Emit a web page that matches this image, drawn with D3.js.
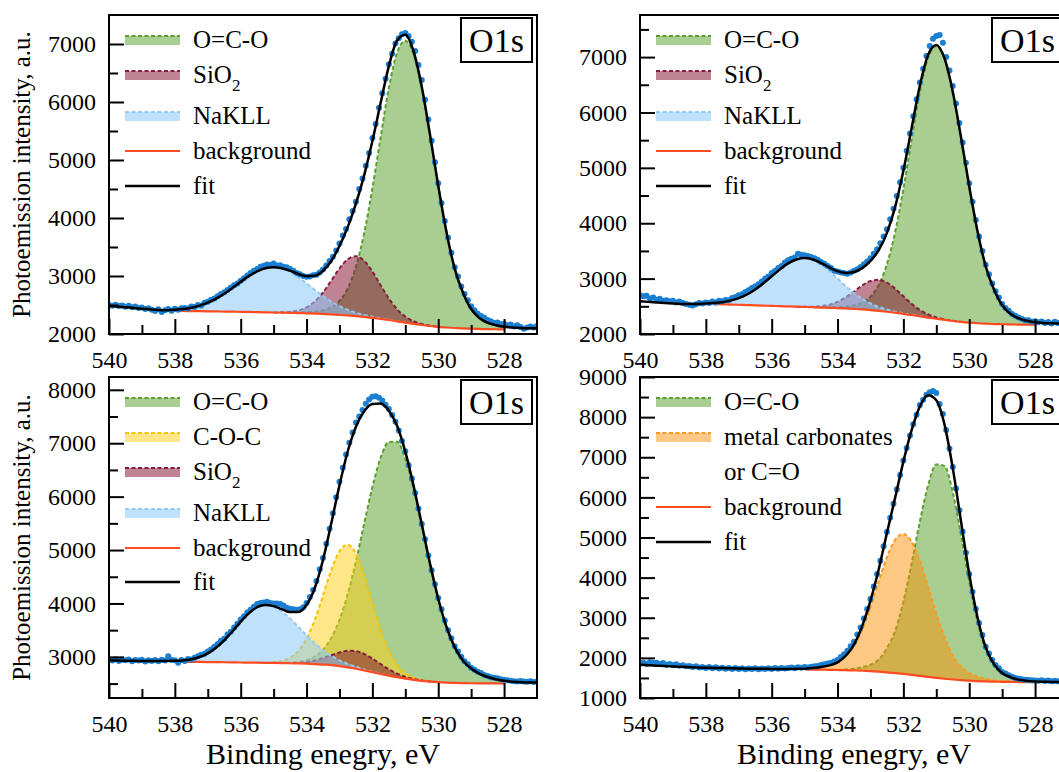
<!DOCTYPE html>
<html>
<head>
<meta charset="utf-8">
<script src="https://cdn.jsdelivr.net/npm/d3@7"></script>
<style>
  html, body { margin: 0; padding: 0; background: #fff; }
  svg { display: block; }
</style>
</head>
<body>
<svg id="chart" width="1059" height="772"></svg>
<script>
// ---------- energy sampling (eV) ----------
const gridEnergy = [540,539.75,539.5,539.25,539,538.75,538.5,538.25,538,537.75,537.5,537.25,537,536.75,536.5,536.25,536,535.75,535.5,535.25,535,534.75,534.5,534.25,534,533.75,533.5,533.25,533,532.75,532.5,532.25,532,531.75,531.5,531.25,531,530.75,530.5,530.25,530,529.75,529.5,529.25,529,528.75,528.5,528.25,528,527.75,527.5,527.25,527];

const countEnergy = [
  540,539.9,539.8,539.7,539.6,539.5,539.4,539.3,539.2,539.1,
  539,538.9,538.8,538.7,538.6,538.5,538.4,538.3,538.2,538.1,
  538,537.9,537.8,537.7,537.6,537.5,537.4,537.3,537.2,537.1,
  537,536.9,536.8,536.7,536.6,536.5,536.4,536.3,536.2,536.1,
  536,535.9,535.8,535.7,535.6,535.5,535.4,535.3,535.2,535.1,
  535,534.9,534.8,534.7,534.6,534.5,534.4,534.3,534.2,534.1,
  534,533.9,533.8,533.7,533.6,533.5,533.4,533.3,533.2,533.1,
  533,532.9,532.8,532.7,532.6,532.5,532.4,532.3,532.2,532.1,
  532,531.9,531.8,531.7,531.6,531.5,531.4,531.3,531.2,531.1,
  531,530.9,530.8,530.7,530.6,530.5,530.4,530.3,530.2,530.1,
  530,529.9,529.8,529.7,529.6,529.5,529.4,529.3,529.2,529.1,
  529,528.9,528.8,528.7,528.6,528.5,528.4,528.3,528.2,528.1,
  528,527.9,527.8,527.7,527.6,527.5,527.4,527.3,527.2,527.1,
  527];

// ---------- tick values ----------
const energyTicks = [540, 538, 536, 534, 532, 530, 528];
const energyMinorTicks = [539, 537, 535, 533, 531, 529];
const p1IntensityTicks = [2000, 3000, 4000, 5000, 6000, 7000];
const p1IntensityMinor = [2500, 3500, 4500, 5500, 6500];
const p2IntensityTicks = [2000, 3000, 4000, 5000, 6000, 7000];
const p2IntensityMinor = [2500, 3500, 4500, 5500, 6500, 7500];
const p3IntensityTicks = [3000, 4000, 5000, 6000, 7000, 8000];
const p3IntensityMinor = [2500, 3500, 4500, 5500, 6500, 7500];
const p4IntensityTicks = [1000, 2000, 3000, 4000, 5000, 6000, 7000, 8000, 9000];
const p4IntensityMinor = [1500, 2500, 3500, 4500, 5500, 6500, 7500, 8500];

// ---------- sample 1 ----------
const p1Background = [null,null,null,null,null,null,null,2400,2399,2397,2395,2393,2391,2389,2387,2385,2383,2380,2377,2374,2371,2368,2365,2361,2357,2352,2346,2339,2331,2321,2309,2295,2279,2261,2242,2218,2196,2175,2155,2138,2124,2112,2103,2096,2091,2087,2084,2082,2080,null,null,null,null];
const p1OCO = [0,0,0,0,0,0,0,0,0,0,0,0,0,0,0,0,0,0,0,0,0,0,5,10,20,35,65,120,240,460,850,1440,2230,3130,4000,4630,4860,4655,4088,3293,2432,1648,1025,620,340,190,110,70,45,0,0,0,0];
const p1SiO2 = [0,0,0,0,0,0,0,0,0,0,0,0,0,0,0,0,0,0,0,0,0,6,18,45,104,209,371,580,798,966,1030,966,798,580,371,209,104,45,18,6,0,0,0,0,0,0,0,0,0,0,0,0,0];
const p1NaKLL = [0,0,0,0,0,0,0,10,19,34,59,96,149,220,308,409,516,619,704,761,780,761,704,619,516,409,308,220,149,96,59,34,19,10,5,2,0,0,0,0,0,0,0,0,0,0,0,0,0,0,0,0,0];
const p1Fit = [2485,2475,2463,2450,2437,2425,2415,2410,2418,2431,2454,2489,2540,2609,2695,2794,2899,2999,3081,3135,3151,3135,3092,3035,2997,3005,3090,3259,3518,3843,4248,4735,5326,5981,6618,7059,7160,6875,6261,5437,4556,3760,3128,2716,2431,2277,2194,2152,2125,2112,2104,2099,2096];
const p1Counts = [
  2500,2488,2505,2482,2490,2470,2485,2460,2475,2450,
  2455,2430,2445,2420,2395,2425,2380,2410,2430,2400,
  2435,2420,2445,2450,2440,2475,2465,2500,2490,2540,
  2555,2590,2610,2650,2690,2720,2760,2800,2840,2870,
  2920,2960,3010,3050,3090,3120,3160,3175,3200,3190,
  3215,3180,3185,3160,3150,3120,3090,3050,3030,3000,
  2985,2990,3015,3020,3060,3110,3180,3260,3330,3440,
  3560,3700,3810,3980,4120,4280,4500,4680,4900,5120,
  5380,5620,5900,6150,6400,6650,6830,7010,7100,7170,
  7190,7140,7040,6880,6640,6380,6040,5700,5330,4960,
  4600,4260,3950,3660,3400,3150,2990,2820,2690,2580,
  2480,2410,2350,2310,2280,2240,2220,2190,2200,2170,
  2175,2150,2165,2130,2150,2120,2090,2110,2130,2110,
  2140];

// ---------- sample 2 ----------
const p2Background = [null,null,null,null,null,null,null,null,null,2540,2536,2532,2528,2523,2518,2513,2508,2503,2498,2493,2488,2483,2478,2473,2467,2461,2453,2444,2432,2418,2402,2384,2365,2343,2320,2297,2275,2254,2235,2219,2205,2194,2186,2180,2176,2173,2170,2168,2167,null,null,null,null];
const p2OCO = [0,0,0,0,0,0,0,0,0,0,0,0,0,0,0,0,0,0,0,0,0,0,5,10,20,35,66,121,243,466,860,1457,2257,3168,4048,4686,4920,4712,4138,3333,2461,1668,1037,627,344,192,111,71,46,0,0,0,0];
const p2SiO2 = [0,0,0,0,0,0,0,0,0,0,0,0,0,0,0,0,0,0,0,0,3,10,25,57,114,202,315,434,525,560,525,434,315,202,114,57,25,10,3,0,0,0,0,0,0,0,0,0,0,0,0,0,0];
const p2NaKLL = [0,0,0,0,0,0,0,0,0,20,39,70,119,190,286,403,534,664,776,853,880,853,776,664,534,403,286,190,119,70,39,20,10,4,2,0,0,0,0,0,0,0,0,0,0,0,0,0,0,0,0,0,0];
const p2Fit = [2592,2580,2569,2559,2550,2543,2540,2542,2549,2560,2575,2602,2647,2713,2804,2916,3042,3167,3274,3346,3371,3346,3284,3204,3135,3101,3120,3189,3319,3514,3826,4295,4947,5717,6484,7040,7220,6976,6376,5552,4666,3862,3223,2807,2520,2365,2281,2239,2213,2200,2193,2190,2188];
const p2Counts = [
  2700,2680,2690,2640,2660,2620,2635,2600,2610,2590,
  2600,2570,2585,2560,2540,2530,2515,2535,2560,2550,
  2570,2560,2585,2570,2600,2590,2615,2610,2650,2670,
  2700,2720,2760,2790,2830,2860,2900,2950,3000,3040,
  3100,3140,3190,3230,3290,3330,3360,3380,3450,3430,
  3420,3410,3390,3370,3340,3300,3270,3230,3190,3140,
  3130,3110,3100,3090,3110,3140,3170,3210,3260,3310,
  3370,3450,3530,3640,3760,3890,4070,4260,4490,4740,
  5000,5310,5620,5930,6240,6540,6790,7020,7200,7330,
  7380,7400,7260,7000,6760,6480,6160,5810,5460,5090,
  4720,4390,4060,3760,3500,3250,3080,2910,2770,2660,
  2540,2470,2420,2360,2330,2300,2270,2250,2250,2220,
  2230,2210,2225,2200,2215,2190,2220,2200,2215,2205,
  2220];

// ---------- sample 3 ----------
const p3Background = [null,null,null,null,null,null,null,null,null,2909,2907,2905,2903,2901,2899,2897,2895,2893,2891,2889,2887,2884,2881,2877,2872,2865,2856,2845,2826,2805,2778,2747,2714,2680,2648,2618,2592,2570,2552,2538,2527,2519,2513,2509,2506,2504,2503,2502,2501,null,null,null,null];
const p3OCO = [0,0,0,0,0,0,0,0,0,0,0,0,0,0,0,0,0,0,0,0,0,5,13,30,68,142,278,510,867,1372,2014,2746,3465,4048,4376,4410,4116,3582,2910,2207,1562,1045,670,425,275,182,121,80,50,0,0,0,0];
const p3COC = [0,0,0,0,0,0,0,0,0,0,0,0,0,0,0,0,0,0,0,0,13,39,101,232,466,826,1292,1779,2153,2295,2153,1779,1292,826,466,232,101,39,13,0,0,0,0,0,0,0,0,0,0,0,0,0,0];
const p3SiO2 = [0,0,0,0,0,0,0,0,0,0,0,0,0,0,0,0,0,0,0,0,0,2,6,15,33,67,119,186,256,309,330,309,256,186,119,67,33,15,6,2,0,0,0,0,0,0,0,0,0,0,0,0,0];
const p3NaKLL = [0,0,0,0,0,0,0,0,0,23,48,92,163,269,411,582,764,926,1039,1080,1050,964,837,686,531,389,269,176,109,64,35,18,9,4,0,0,0,0,0,0,0,0,0,0,0,0,0,0,0,0,0,0,0];
const p3Fit = [2935,2932,2929,2926,2924,2922,2922,2924,2928,2932,2955,2997,3066,3170,3310,3479,3659,3819,3930,3969,3950,3894,3838,3840,3970,4289,4814,5496,6211,6845,7310,7599,7736,7744,7609,7327,6842,6206,5481,4747,4089,3564,3183,2934,2781,2686,2624,2582,2551,2535,2525,2520,2518];
const p3Counts = [
  2950,2930,2955,2925,2945,2935,2950,2920,2940,2930,
  2945,2915,2935,2925,2940,2920,2945,2930,3010,2940,
  2935,2890,2940,2925,2960,2950,2985,3010,3040,3060,
  3100,3140,3190,3240,3300,3340,3420,3470,3550,3620,
  3700,3760,3830,3880,3940,3990,4010,4020,4030,4010,
  4000,4000,3990,3960,3920,3900,3890,3880,3890,3930,
  4010,4120,4250,4420,4640,4850,5120,5400,5690,5990,
  6280,6540,6790,7010,7200,7390,7500,7620,7740,7820,
  7870,7880,7850,7800,7720,7640,7530,7400,7240,7040,
  6850,6590,6340,6070,5780,5490,5200,4900,4620,4360,
  4100,3890,3680,3500,3350,3200,3100,3000,2920,2860,
  2795,2760,2720,2700,2660,2640,2620,2610,2600,2580,
  2570,2560,2555,2545,2540,2550,2540,2535,2545,2530,
  2540];

// ---------- sample 4 ----------
const p4Background = [null,null,null,null,null,null,null,null,null,null,null,null,null,null,null,null,null,null,null,null,1710,1708,1705,1702,1698,1693,1687,1679,1669,1656,1640,1621,1600,1576,1551,1526,1502,1480,1461,1445,1432,1421,1413,1407,1403,1400,1398,1397,1396,null,null,null,null];
const p4OCO = [0,0,0,0,0,0,0,0,0,0,0,0,0,0,0,0,0,0,0,0,0,0,0,0,0,20,45,90,160,300,600,1051,1800,2776,3843,4770,5320,5304,4668,3617,2469,1482,782,400,200,110,60,30,15,0,0,0,0];
const p4Carbonate = [0,0,0,0,0,0,0,0,0,0,0,0,0,0,0,0,0,0,0,0,22,38,65,110,190,340,600,1030,1598,2248,2872,3322,3490,3322,2872,2248,1598,1030,600,340,190,110,65,38,22,12,0,0,0,0,0,0,0];
const p4Fit = [1831,1818,1806,1795,1785,1776,1768,1762,1756,1750,1745,1740,1736,1732,1729,1727,1725,1724,1724,1726,1732,1746,1770,1812,1888,2053,2332,2799,3427,4204,5112,5994,6890,7674,8266,8544,8420,7814,6729,5402,4091,3013,2260,1845,1625,1522,1458,1427,1411,1405,1400,1398,1396];
const p4Counts = [
  1860,1880,1850,1890,1870,1880,1845,1870,1830,1850,
  1820,1840,1805,1815,1790,1800,1770,1790,1760,1775,
  1750,1770,1740,1765,1735,1755,1730,1750,1725,1745,
  1720,1740,1715,1735,1720,1740,1715,1735,1720,1740,
  1725,1745,1730,1750,1735,1745,1760,1740,1765,1755,
  1770,1760,1780,1790,1800,1820,1840,1860,1880,1910,
  1950,2020,2090,2180,2290,2400,2580,2760,2980,3220,
  3470,3780,4090,4420,4780,5140,5490,5840,6200,6560,
  6920,7230,7540,7820,8060,8300,8430,8560,8620,8650,
  8600,8330,8080,7680,7220,6760,6220,5680,5150,4620,
  4090,3650,3220,2870,2570,2280,2110,1950,1820,1740,
  1650,1610,1570,1530,1500,1480,1470,1455,1450,1440,
  1435,1430,1440,1425,1435,1420,1430,1415,1425,1410,
  1420];

// ---------- styles ----------
const FONT = '"Liberation Serif", "Times New Roman", Times, serif';
const componentStyle = {
  oco:   { stroke: '#5c9e2e', fill: 'rgba(112,173,71,0.6)' },
  coc:   { stroke: '#f5c400', fill: 'rgba(255,206,20,0.5)' },
  sio2:  { stroke: '#871c3d', fill: 'rgba(128,8,42,0.5)' },
  nakll: { stroke: '#93caf3', fill: 'rgba(140,200,250,0.55)' },
  mc:    { stroke: '#ff9a1f', fill: 'rgba(250,146,8,0.5)' }
};
const backgroundColor = '#ff4b1f';
const fitColor = '#000';
const dotColor = '#1a7fd2';

const PLOT_W = 428;
const panels = [
  { left: 109, top: 15, bottom: 334, yDomain: [2000, 7500],
    yTicks: p1IntensityTicks, yMinor: p1IntensityMinor,
    bg: p1Background, fit: p1Fit, counts: p1Counts,
    comps: [['oco', p1OCO], ['sio2', p1SiO2], ['nakll', p1NaKLL]],
    legend: [['oco','O=C-O',25], ['sio2','SiO2',60], ['nakll','NaKLL',101], ['bg','background',136], ['fit','fit',171]],
    yTitle: true, xTitle: false },
  { left: 640, top: 15, bottom: 334, yDomain: [2000, 7760],
    yTicks: p2IntensityTicks, yMinor: p2IntensityMinor,
    bg: p2Background, fit: p2Fit, counts: p2Counts,
    comps: [['oco', p2OCO], ['sio2', p2SiO2], ['nakll', p2NaKLL]],
    legend: [['oco','O=C-O',25], ['sio2','SiO2',60], ['nakll','NaKLL',101], ['bg','background',136], ['fit','fit',171]],
    yTitle: false, xTitle: false },
  { left: 109, top: 377, bottom: 698, yDomain: [2230, 8240],
    yTicks: p3IntensityTicks, yMinor: p3IntensityMinor,
    bg: p3Background, fit: p3Fit, counts: p3Counts,
    comps: [['oco', p3OCO], ['coc', p3COC], ['sio2', p3SiO2], ['nakll', p3NaKLL]],
    legend: [['oco','O=C-O',25], ['coc','C-O-C',60], ['sio2','SiO2',95], ['nakll','NaKLL',136], ['bg','background',171], ['fit','fit',205]],
    yTitle: true, xTitle: true },
  { left: 640, top: 377, bottom: 698, yDomain: [1000, 9000],
    yTicks: p4IntensityTicks, yMinor: p4IntensityMinor,
    bg: p4Background, fit: p4Fit, counts: p4Counts,
    comps: [['oco', p4OCO], ['mc', p4Carbonate]],
    legend: [['oco','O=C-O',25], ['mc','metal carbonates',60], ['text','or C=O',95], ['bg','background',130], ['fit','fit',165]],
    yTitle: false, xTitle: true }
];

const svg = d3.select('#chart');
svg.append('rect').attr('width', 1059).attr('height', 772).attr('fill', '#fff');
const defs = svg.append('defs');

panels.forEach((p, pi) => {
  const x = d3.scaleLinear().domain([540, 527]).range([p.left, p.left + PLOT_W]);
  const y = d3.scaleLinear().domain(p.yDomain).range([p.bottom, p.top]);
  const g = svg.append('g');

  defs.append('clipPath').attr('id', 'plot-clip-' + pi)
    .append('rect').attr('x', p.left).attr('y', p.top)
    .attr('width', PLOT_W).attr('height', p.bottom - p.top);
  const plot = g.append('g').attr('clip-path', `url(#plot-clip-${pi})`);

  // fitted components, stacked on the Shirley background
  p.comps.forEach(([key, net]) => {
    const st = componentStyle[key];
    const pts = gridEnergy.map((e, i) => ({ e, b: p.bg[i], v: net[i], i }))
      .filter(d => d.b !== null);
    const area = d3.area().curve(d3.curveMonotoneX)
      .x(d => x(d.e)).y0(d => y(d.b)).y1(d => y(d.b + d.v));
    plot.append('path').datum(pts).attr('d', area).attr('fill', st.fill);
    const edge = pts.filter(d => d.v > 0 || (net[d.i - 1] > 0) || (net[d.i + 1] > 0));
    const line = d3.line().curve(d3.curveMonotoneX)
      .x(d => x(d.e)).y(d => y(d.b + d.v));
    plot.append('path').datum(edge).attr('d', line)
      .attr('fill', 'none').attr('stroke', st.stroke)
      .attr('stroke-width', 2).attr('stroke-dasharray', '4 2.5');
  });

  // background
  const bgLine = d3.line().curve(d3.curveMonotoneX)
    .defined((d, i) => p.bg[i] !== null)
    .x((d, i) => x(gridEnergy[i])).y((d, i) => y(p.bg[i]));
  plot.append('path').datum(p.bg).attr('d', bgLine)
    .attr('fill', 'none').attr('stroke', backgroundColor).attr('stroke-width', 2.2);

  // measured counts
  plot.append('g').selectAll('circle').data(p.counts).join('circle')
    .attr('cx', (d, i) => x(countEnergy[i])).attr('cy', d => y(d))
    .attr('r', 3).attr('fill', dotColor);

  // envelope
  const fitLine = d3.line().curve(d3.curveMonotoneX)
    .x((d, i) => x(gridEnergy[i])).y(d => y(d));
  plot.append('path').datum(p.fit).attr('d', fitLine)
    .attr('fill', 'none').attr('stroke', fitColor).attr('stroke-width', 2.5);

  // axes with inward ticks
  const styleAxis = sel => {
    sel.select('.domain').remove();
    sel.attr('font-family', FONT).attr('font-size', 24);
    sel.selectAll('line').attr('stroke', '#000').attr('stroke-width', 2);
    sel.selectAll('text').attr('fill', '#000');
  };
  g.append('g').attr('transform', `translate(0,${p.bottom})`)
    .call(d3.axisBottom(x).tickValues(energyTicks).tickSize(-15).tickPadding(17).tickFormat(d3.format('d')))
    .call(styleAxis);
  g.append('g').attr('transform', `translate(0,${p.bottom})`)
    .call(d3.axisBottom(x).tickValues(energyMinorTicks).tickSize(-9).tickFormat(''))
    .call(styleAxis);
  g.append('g').attr('transform', `translate(${p.left},0)`)
    .call(d3.axisLeft(y).tickValues(p.yTicks).tickSize(-15).tickPadding(13).tickFormat(d3.format('d')))
    .call(styleAxis);
  g.append('g').attr('transform', `translate(${p.left},0)`)
    .call(d3.axisLeft(y).tickValues(p.yMinor).tickSize(-9).tickFormat(''))
    .call(styleAxis);

  // frame
  g.append('rect').attr('x', p.left).attr('y', p.top)
    .attr('width', PLOT_W).attr('height', p.bottom - p.top)
    .attr('fill', 'none').attr('stroke', '#000').attr('stroke-width', 2);

  // core-level tag
  const boxR = p.left + PLOT_W - 5, boxW = 71, boxT = p.top + 3, boxH = 44;
  g.append('rect').attr('x', boxR - boxW).attr('y', boxT)
    .attr('width', boxW).attr('height', boxH)
    .attr('fill', '#fff').attr('stroke', '#000').attr('stroke-width', 2);
  g.append('text').attr('x', boxR - boxW / 2).attr('y', boxT + boxH / 2 + 12)
    .attr('text-anchor', 'middle').attr('font-family', FONT).attr('font-size', 34)
    .text('O1s');

  // legend
  const lg = g.append('g').attr('font-family', FONT).attr('font-size', 25);
  const sx = p.left + 16, sw = 55, tx = p.left + 84;
  p.legend.forEach(([key, label, dy]) => {
    const ry = p.top + dy;
    if (componentStyle[key]) {
      const st = componentStyle[key];
      lg.append('rect').attr('x', sx).attr('y', ry - 4).attr('width', sw).attr('height', 9)
        .attr('fill', st.fill);
      lg.append('line').attr('x1', sx).attr('x2', sx + sw).attr('y1', ry - 4).attr('y2', ry - 4)
        .attr('stroke', st.stroke).attr('stroke-width', 2).attr('stroke-dasharray', '4 2.5');
    } else if (key === 'bg' || key === 'fit') {
      lg.append('line').attr('x1', sx).attr('x2', sx + sw).attr('y1', ry).attr('y2', ry)
        .attr('stroke', key === 'bg' ? backgroundColor : fitColor)
        .attr('stroke-width', key === 'bg' ? 2.2 : 2.5);
    }
    const t = lg.append('text').attr('x', tx).attr('y', ry + 8).attr('fill', '#000');
    if (label === 'SiO2') {
      t.append('tspan').text('SiO');
      t.append('tspan').attr('font-size', 17).attr('dy', 8).text('2');
    } else {
      t.text(label);
    }
  });

  // axis titles
  if (p.xTitle) {
    g.append('text').attr('x', p.left + PLOT_W / 2).attr('y', 764)
      .attr('text-anchor', 'middle').attr('font-family', FONT).attr('font-size', 30)
      .text('Binding enegry, eV');
  }
  if (p.yTitle) {
    g.append('text')
      .attr('transform', `translate(30,${(p.top + p.bottom) / 2}) rotate(-90)`)
      .attr('text-anchor', 'middle').attr('font-family', FONT).attr('font-size', 25)
      .text('Photoemission intensity, a.u.');
  }
});
</script>
</body>
</html>
